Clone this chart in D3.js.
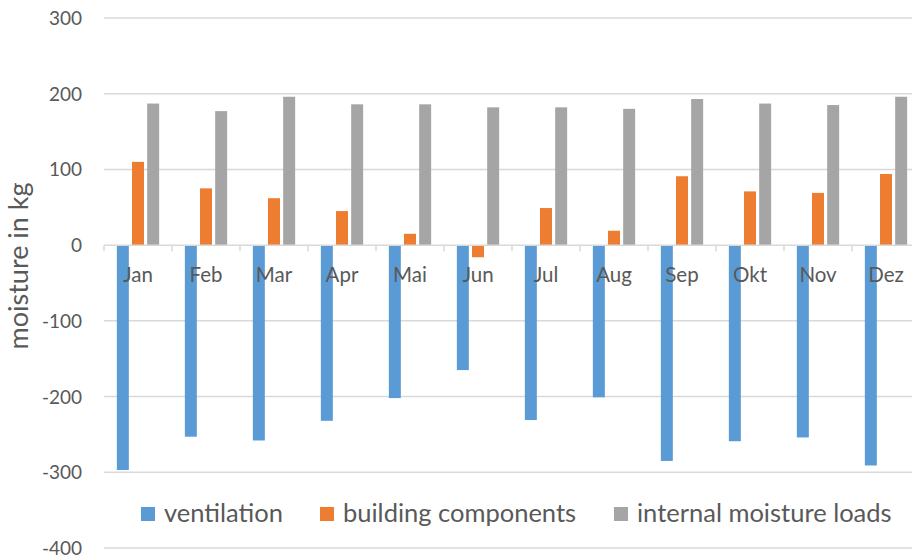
<!DOCTYPE html>
<html>
<head>
<meta charset="utf-8">
<script src="https://cdn.jsdelivr.net/npm/d3@7"></script>
<style>
  body { margin: 0; background: #fff; }
  text { font-family: Lato, "Open Sans", sans-serif; fill: #595959; }
</style>
</head>
<body>
<svg></svg>
<script>
var months = ['Jan', 'Feb', 'Mar', 'Apr', 'Mai', 'Jun', 'Jul', 'Aug', 'Sep', 'Okt', 'Nov', 'Dez'];
var seriesNames = ['ventilation', 'building components', 'internal moisture loads'];
var ventilation = [-297, -253, -258, -232, -202, -165, -231, -201, -285, -259, -254, -291];
var buildingComponents = [110, 75, 62, 45, 15, -16, 49, 19, 91, 71, 69, 94];
var internalLoads = [187, 177, 196, 186, 186, 182, 182, 180, 193, 187, 185, 196];
var yTicks = [300, 200, 100, 0, -100, -200, -300, -400];
var colors = ['#5B9BD5', '#ED7D31', '#A5A5A5'];

var width = 912;
var height = 558;

var svg = d3.select('svg')
  .attr('width', width)
  .attr('height', height);

var x0 = d3.scaleBand().domain(months).range([104, 920]);
var x1 = d3.scaleBand().domain(seriesNames)
  .range([12.85, x0.bandwidth() - 12.85])
  .paddingInner(0.21);
var y = d3.scaleLinear().domain([-400, 300]).range([548, 18]);

var values = [ventilation, buildingComponents, internalLoads];
var rows = [];
months.forEach(function(m, i){
  seriesNames.forEach(function(s, j){
    rows.push({ month: m, series: s, value: values[j][i], color: colors[j] });
  });
});

// gridlines
svg.append('g')
  .selectAll('line')
  .data(yTicks.filter(function(d){ return d !== 0; }))
  .enter().append('line')
  .attr('x1', 104).attr('x2', width)
  .attr('y1', function(d){ return y(d); })
  .attr('y2', function(d){ return y(d); })
  .attr('stroke', '#D9D9D9')
  .attr('stroke-width', 1.5);

// y tick labels
svg.append('g')
  .selectAll('text')
  .data(yTicks)
  .enter().append('text')
  .attr('x', 82)
  .attr('y', function(d){ return y(d) + 7; })
  .attr('text-anchor', 'end')
  .style('font-size', '19px')
  .text(function(d){ return d; });

// bars
svg.append('g')
  .selectAll('rect')
  .data(rows)
  .enter().append('rect')
  .attr('x', function(d){ return x0(d.month) + x1(d.series); })
  .attr('width', x1.bandwidth())
  .attr('y', function(d){ return y(Math.max(0, d.value)); })
  .attr('height', function(d){ return Math.abs(y(d.value) - y(0)); })
  .attr('fill', function(d){ return d.color; });

// zero axis with category ticks
var axis = svg.append('g');
axis.append('line')
  .attr('x1', 104).attr('x2', width)
  .attr('y1', y(0)).attr('y2', y(0))
  .attr('stroke', '#D9D9D9')
  .attr('stroke-width', 1.5);
axis.selectAll('.tick')
  .data(months)
  .enter().append('line')
  .attr('x1', function(d){ return x0(d); })
  .attr('x2', function(d){ return x0(d); })
  .attr('y1', y(0)).attr('y2', y(0) + 6)
  .attr('stroke', '#D9D9D9')
  .attr('stroke-width', 1.5);
axis.selectAll('text')
  .data(months)
  .enter().append('text')
  .attr('x', function(d){ return x0(d) + x0.bandwidth() / 2; })
  .attr('y', 282)
  .attr('text-anchor', 'middle')
  .style('font-size', '20.5px')
  .text(function(d){ return d; });

// y axis title
svg.append('text')
  .attr('transform', 'translate(28,266) rotate(-90)')
  .attr('text-anchor', 'middle')
  .style('font-size', '27px')
  .text('moisture in kg');

// legend
var legendX = [141, 320, 614];
var legend = svg.append('g')
  .selectAll('g')
  .data(seriesNames)
  .enter().append('g')
  .attr('transform', function(d, i){ return 'translate(' + legendX[i] + ',507)'; });
legend.append('rect')
  .attr('width', 14).attr('height', 14)
  .attr('fill', function(d, i){ return colors[i]; });
legend.append('text')
  .attr('x', 23).attr('y', 15)
  .style('font-size', '25.5px')
  .text(function(d){ return d; });
</script>
</body>
</html>
